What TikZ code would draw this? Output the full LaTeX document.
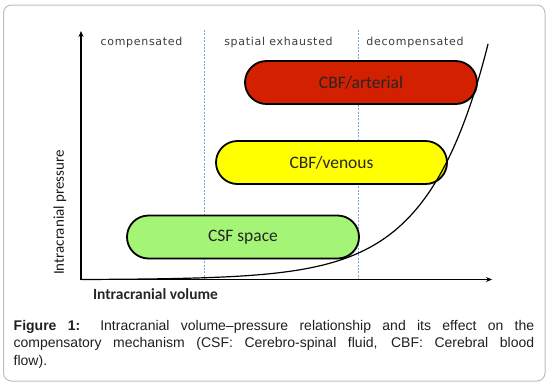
\documentclass[tikz,border=0pt]{standalone}
\usepackage{fontspec}
\setmainfont{Liberation Sans}
\newfontfamily\carl{Carlito}
\newfontfamily\regfont{DejaVu Sans}[LetterSpace=6.5]
\usetikzlibrary{shapes.misc,arrows.meta,shadows}
\definecolor{pillred}{RGB}{210,32,0}
\definecolor{pillyellow}{RGB}{255,255,0}
\definecolor{pillgreen}{RGB}{164,244,118}
\definecolor{dashblue}{RGB}{125,165,215}
\definecolor{boxgray}{RGB}{190,190,190}
\definecolor{labgray}{RGB}{60,60,60}
\tikzset{
  pill/.style={rounded rectangle, draw=black, line width=1.8pt, inner sep=0pt,
    minimum height=43pt, font=\carl\fontsize{17.5}{20}\selectfont, text=black!85,
    drop shadow={opacity=0.25, shadow xshift=1pt, shadow yshift=-1.2pt}},
  regionlab/.style={anchor=base, text=labgray, font=\regfont\fontsize{11}{13}\selectfont, inner sep=0pt},
  divider/.style={draw=dashblue, line width=0.8pt, dash pattern=on 2pt off 1.4pt},
  axis/.style={line width=1.4pt, -{Stealth[length=6pt,width=5pt]}},
}
\begin{document}
\begin{tikzpicture}[x=1pt,y=-1pt]
\useasboundingbox (0,0) rectangle (552,383);
\draw[boxgray, line width=1pt, rounded corners=8pt] (3.5,5) rectangle (545,381);
% region dividers
\coordinate (d1t) at (204,30); \coordinate (d1b) at (204,280);
\coordinate (d2t) at (358,30); \coordinate (d2b) at (358,280);
\draw[divider] (d1t) -- (d1b);
\draw[divider] (d2t) -- (d2b);
% region labels
\node[regionlab] (lc) at (141.5,45) {compensated};
\node[regionlab] (ls) at (278.5,45) {spatial exhausted};
\node[regionlab] (ld) at (415,45) {decompensated};
% pills
\node[pill, fill=pillred, minimum width=232pt] (art) at (361,82.5) {CBF/arterial};
\node[pill, fill=pillyellow, minimum width=231pt] (ven) at (331.5,162.5) {CBF/venous};
\node[pill, fill=pillgreen, minimum width=232pt] (csf) at (243,237) {CSF space};
% axes
\coordinate (o) at (81,279.5);
\coordinate (ytop) at (81,31);
\coordinate (xend) at (492,279.5);
\draw[axis] (o) -- (ytop);
\draw[axis] (o) -- (xend);
% curve
\draw[line width=1.2pt, line cap=round] plot[domain=81:488, samples=150, smooth] (\x, {279.5 - 0.2527*(exp(0.0168*(\x-81))-1)});
% axis labels
\node[font=\carl\bfseries\fontsize{15.5}{18}\selectfont, text=black!85, inner sep=0pt] (xl) at (155.5,294) {Intracranial volume};
\node[font=\carl\fontsize{15}{18}\selectfont, text=black!90, rotate=90, inner sep=0pt] (yl) at (60,212.5) {Intracranial pressure};
% caption
\node[anchor=base west, inner sep=0pt, text=black!88] (cap) at (13.5,330) {\parbox[t]{520.5pt}{\fontsize{14}{17.5}\selectfont
\textbf{Figure 1:} Intracranial volume–pressure relationship and its effect on the\linebreak
compensatory mechanism (CSF: Cerebro-spinal fluid, CBF: Cerebral blood\linebreak
flow).}};
\end{tikzpicture}
\end{document}
